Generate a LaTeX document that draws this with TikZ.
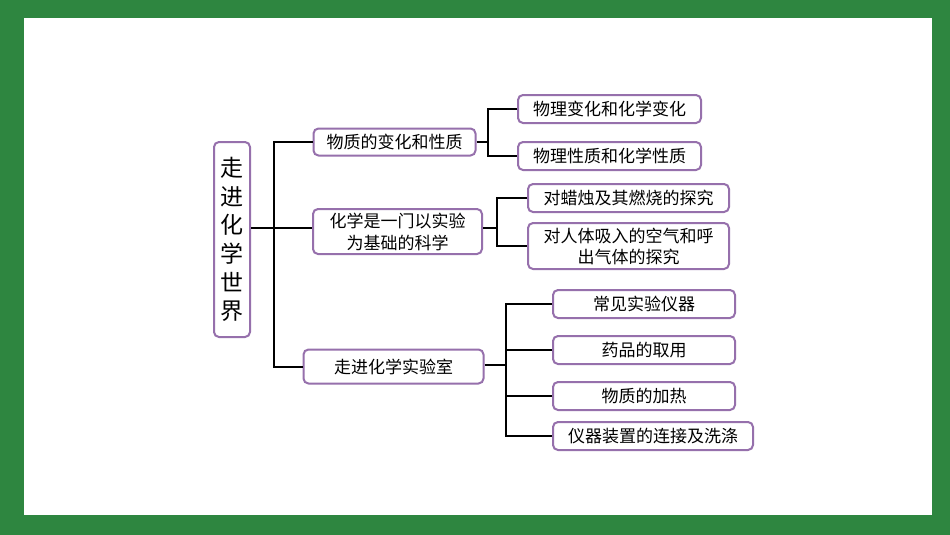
\documentclass[tikz,border=0pt]{standalone}
\usepackage{fontspec}
\setmainfont{Noto Sans CJK SC}
\usetikzlibrary{positioning}
\definecolor{framegreen}{RGB}{46,134,64}
\definecolor{boxpurple}{RGB}{150,112,172}
\tikzset{
  box/.style={draw=boxpurple, line width=2pt, rounded corners=5pt, fill=white, inner sep=0pt, align=center, text=black},
  lvltwo/.style={box, font=\fontsize{17}{22}\selectfont},
  leaf/.style={box, font=\fontsize{17}{21}\selectfont, minimum height=28pt},
  link/.style={draw=black, line width=2pt}
}
\begin{document}
\begin{tikzpicture}[x=1pt,y=-1pt]
\fill[framegreen] (0,0) rectangle (950,535);
\fill[white] (24,18) rectangle (932,515);
\useasboundingbox (0,0) rectangle (950,535);

\node[box, minimum width=36pt, minimum height=195pt, font=\fontsize{23}{28.6}\selectfont] (root) at (232,239.5) {走\\进\\化\\学\\世\\界};

\node[lvltwo, minimum width=162pt, minimum height=27pt] (A) at (394.5,142) {物质的变化和性质};
\node[lvltwo, minimum width=169pt, minimum height=45pt] (B) at (397.5,231.5) {化学是一门以实验\\为基础的科学};
\node[lvltwo, minimum width=180pt, minimum height=34pt] (C) at (393.5,366.5) {走进化学实验室};

\node[leaf, minimum width=183pt] (A1) at (609.5,109) {物理变化和化学变化};
\node[leaf, minimum width=183pt] (A2) at (609.5,156) {物理性质和化学性质};
\node[leaf, minimum width=201pt] (B1) at (628.5,198) {对蜡烛及其燃烧的探究};
\node[leaf, minimum width=201pt, minimum height=46pt] (B2) at (628.5,246) {对人体吸入的空气和呼\\出气体的探究};
\node[leaf, minimum width=182pt] (C1) at (644,304) {常见实验仪器};
\node[leaf, minimum width=182pt] (C2) at (644,350) {药品的取用};
\node[leaf, minimum width=182pt] (C3) at (644,396) {物质的加热};
\node[leaf, minimum width=200pt] (C4) at (653,436) {仪器装置的连接及洗涤};

\coordinate (t) at (274,228);
\coordinate (ta) at (488,142);
\coordinate (tb) at (497,228);
\coordinate (tc) at (506,365);

% trunk
\draw[link] (root.east |- t) -- (t);
\draw[link] (A.west) -- (A.west -| t) -- (C.west -| t) -- (C.west);
\draw[link] (t) -- (B.west |- t);

% branch A
\draw[link] (A.east) -- (ta);
\draw[link] (A1.west) -- (A1.west -| ta) -- (A2.west -| ta) -- (A2.west);
% branch B
\draw[link] (B.east |- tb) -- (tb);
\draw[link] (B1.west) -- (B1.west -| tb) -- (B2.west -| tb) -- (B2.west);
% branch C
\draw[link] (C.east |- tc) -- (tc);
\draw[link] (C1.west) -- (C1.west -| tc) -- (C4.west -| tc) -- (C4.west);
\draw[link] (C2.west) -- (C2.west -| tc);
\draw[link] (C3.west) -- (C3.west -| tc);
\end{tikzpicture}
\end{document}
